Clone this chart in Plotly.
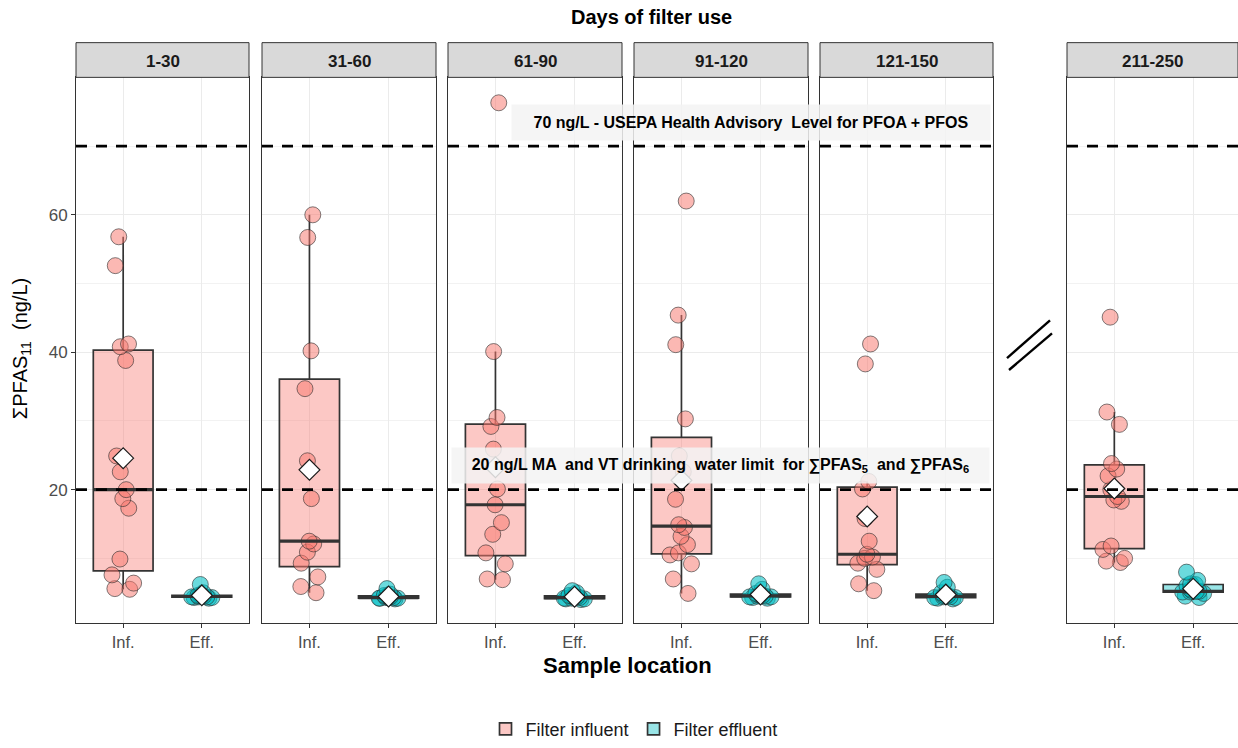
import plotly.graph_objects as go
import numpy as np

W, H = 1238, 748

# ---------------- data ----------------
panels = ["1-30", "31-60", "61-90", "91-120", "121-150", "211-250"]
locations = ["Inf.", "Eff."]
series_names = ["Filter influent", "Filter effluent"]
guideline_values = [70, 20]
y_ticks = [20, 40, 60]

inf_1_30 = [56.8, 52.6, 41.2, 40.8, 38.8, 24.9, 22.6, 20.0, 18.7, 17.3, 9.9, 7.6, 6.4, 5.6, 5.5]
eff_1_30 = [6.2, 5.0, 4.6, 4.5, 4.4, 4.4, 4.3, 4.3, 4.2, 4.5, 4.6, 4.4]
inf_31_60 = [60.0, 56.7, 40.2, 34.7, 24.2, 18.7, 12.5, 12.1, 10.9, 9.3, 7.3, 5.9, 5.0]
eff_31_60 = [5.6, 4.8, 4.5, 4.3, 4.3, 4.2, 4.2, 4.1, 4.3, 4.4, 4.2, 4.6]
inf_61_90 = [76.3, 40.1, 30.5, 29.2, 25.9, 20.1, 17.8, 15.2, 13.5, 10.8, 9.2, 7.0, 6.9]
eff_61_90 = [5.3, 5.0, 4.6, 4.4, 4.3, 4.2, 4.2, 4.1, 4.0, 4.3, 4.1, 4.5]
inf_91_120 = [62.0, 45.4, 41.1, 30.3, 24.9, 22.6, 18.6, 14.9, 14.5, 13.2, 12.0, 10.8, 10.5, 9.2, 7.0, 4.9]
eff_91_120 = [6.3, 5.5, 4.9, 4.6, 4.5, 4.4, 4.4, 4.3, 4.5, 4.6, 4.2, 4.7]
inf_121_150 = [41.2, 38.3, 21.2, 20.1, 15.8, 12.5, 10.6, 10.2, 10.0, 9.3, 8.4, 6.3, 5.3]
eff_121_150 = [6.5, 5.8, 5.0, 4.6, 4.4, 4.3, 4.3, 4.2, 4.4, 4.5, 4.1, 4.6]
inf_211_250 = [45.1, 31.3, 29.5, 23.8, 23.0, 22.0, 20.0, 19.0, 18.5, 18.3, 11.8, 11.3, 10.0, 9.6, 9.4]
eff_211_250 = [8.0, 6.8, 6.3, 6.2, 6.0, 5.5, 5.2, 5.2, 5.2, 5.1, 5.1, 4.9, 4.5, 4.3]

influent = [inf_1_30, inf_31_60, inf_61_90, inf_91_120, inf_121_150, inf_211_250]
effluent = [eff_1_30, eff_31_60, eff_61_90, eff_91_120, eff_121_150, eff_211_250]

label_70 = "<b>70 ng/L - USEPA Health Advisory \u00a0Level for PFOA + PFOS</b>"
label_20 = "<b>20 ng/L MA \u00a0and VT drinking \u00a0water limit \u00a0for ∑PFAS<sub>5</sub> \u00a0and ∑PFAS<sub>6</sub></b>"

# ---------------- layout geometry (pixels) ----------------
panel_px = [(76, 249), (262, 436), (448, 622), (634, 808), (820, 993), (1067, 1238)]
plot_top, plot_bot = 78, 628
strip_top = 43
FONT = "Liberation Sans, Arial, sans-serif"

def px_x(p):
    return p / W

def px_y(p):
    return 1.0 - p / H

c_inf_fill = "rgba(248,118,109,0.40)"
c_inf_pt = "rgba(248,118,109,0.52)"
c_eff_fill = "rgba(0,191,196,0.40)"
c_eff_pt = "rgba(0,191,196,0.58)"
c_line = "#333333"
BOX_W = 0.76

fig = go.Figure()
layout_axes = {}
shapes = []
annotations = []

std_w = 173.5
for i, name in enumerate(panels):
    sfx = "" if i == 0 else str(i + 1)
    xr, yr = "x" + sfx, "y" + sfx
    for j, (vals, fill, pt, sname) in enumerate([
        (influent[i], c_inf_fill, c_inf_pt, series_names[0]),
        (effluent[i], c_eff_fill, c_eff_pt, series_names[1]),
    ]):
        pos = j + 1
        fig.add_trace(go.Box(
            x=[pos] * len(vals), y=vals, name=sname, legendgroup=sname,
            showlegend=(i == 0), xaxis=xr, yaxis=yr,
            boxpoints="all", jitter=0.45, pointpos=0, width=BOX_W,
            whiskerwidth=0, fillcolor=fill,
            line=dict(color=c_line, width=1.7),
            marker=dict(color=pt, size=16, line=dict(color="rgba(45,45,45,0.6)", width=1)),
            quartilemethod="linear", hoverinfo="y",
        ))
        med = float(np.median(vals))
        fig.add_trace(go.Scatter(
            x=[pos - BOX_W / 2, pos + BOX_W / 2], y=[med, med], mode="lines",
            xaxis=xr, yaxis=yr, showlegend=False, hoverinfo="skip",
            line=dict(color=c_line, width=3.2),
        ))
    fig.add_trace(go.Scatter(
        x=[1, 2], y=[float(np.mean(influent[i])), float(np.mean(effluent[i]))],
        mode="markers", xaxis=xr, yaxis=yr, showlegend=False,
        marker=dict(symbol="diamond", size=16, color="white", line=dict(color="#1a1a1a", width=1.2)),
    ))

    x0, x1 = panel_px[i]
    xmax = 0.4 + (x1 - x0) * 2.2 / std_w if i == 5 else 2.6
    layout_axes["xaxis" + sfx] = dict(
        domain=[px_x(x0), px_x(x1)], range=[0.4, xmax], anchor=yr,
        tickvals=[1, 2], ticktext=locations, ticks="outside", ticklen=4,
        tickcolor=c_line, tickfont=dict(size=16.5, color="#4D4D4D", family=FONT),
        showgrid=True, gridcolor="#EBEBEB", gridwidth=1, zeroline=False,
        showline=True, mirror=True, linecolor=c_line, linewidth=1,
    )
    layout_axes["yaxis" + sfx] = dict(
        domain=[px_y(plot_bot), px_y(plot_top)], range=[0.6, 80.0], anchor=xr,
        tickvals=y_ticks, showticklabels=(i == 0), ticks="outside" if i == 0 else "",
        ticklen=4, tickcolor=c_line, tickfont=dict(size=17, color="#4D4D4D", family=FONT),
        ticklabelstandoff=0,
        showgrid=True, gridcolor="#EBEBEB", gridwidth=1, zeroline=False,
        minor=dict(tickvals=[10, 30, 50, 70], showgrid=True, gridcolor="#F2F2F2", gridwidth=0.6, ticks=""),
        showline=True, mirror=True, linecolor=c_line, linewidth=1,
    )
    for gv in guideline_values:
        shapes.append(dict(type="line", xref=xr + " domain", yref=yr, x0=0, x1=1, y0=gv, y1=gv,
                           line=dict(color="black", width=2.6, dash="11px,9px"), layer="above"))
    shapes.append(dict(type="rect", xref="paper", yref="paper", x0=px_x(x0), x1=px_x(x1),
                       y0=px_y(plot_top), y1=px_y(strip_top), fillcolor="#D9D9D9",
                       line=dict(color=c_line, width=1), layer="above"))
    annotations.append(dict(text="<b>%s</b>" % name, xref="paper", yref="paper",
                            x=px_x((x0 + x1) / 2), y=px_y((strip_top + plot_top) / 2 + 1),
                            xanchor="center", yanchor="middle",
                            showarrow=False, font=dict(size=17, color="#1A1A1A", family=FONT)))

# axis break marks
for (a, b, c, d) in [(1007, 361, 1050, 323), (1009, 373, 1052, 336)]:
    shapes.append(dict(type="line", xref="paper", yref="paper", x0=px_x(a), y0=px_y(b),
                       x1=px_x(c), y1=px_y(d), line=dict(color="black", width=2.4)))

# guideline labels
annotations.append(dict(text=label_70, xref="paper", yref="paper", x=px_x(751), y=px_y(123),
                        xanchor="center", yanchor="middle",
                        showarrow=False, width=460, height=17, borderpad=9,
                        bgcolor="rgba(243,243,243,0.85)",
                        font=dict(size=16, color="black", family=FONT)))
annotations.append(dict(text=label_20, xref="paper", yref="paper", x=px_x(720), y=px_y(469),
                        xanchor="center", yanchor="middle",
                        showarrow=False, width=519, height=17, borderpad=9,
                        bgcolor="rgba(243,243,243,0.85)",
                        font=dict(size=16, color="black", family=FONT)))

# titles
annotations.append(dict(text="<b>Days of filter use</b>", xref="paper", yref="paper",
                        x=px_x(651), y=px_y(17), xanchor="center", yanchor="middle", showarrow=False,
                        font=dict(size=20, color="black", family=FONT)))
annotations.append(dict(text="<b>Sample location</b>", xref="paper", yref="paper",
                        x=px_x(627), y=px_y(671), xanchor="center", yanchor="middle", showarrow=False,
                        font=dict(size=22, color="black", family=FONT)))
annotations.append(dict(text="ΣPFAS<sub>11</sub>\u00a0 (ng/L)", xref="paper", yref="paper",
                        x=px_x(21), y=px_y(352), xanchor="center", yanchor="middle",
                        showarrow=False, textangle=-90,
                        font=dict(size=20, color="black", family=FONT)))

fig.update_layout(
    width=W, height=H, autosize=False,
    margin=dict(l=0, r=0, t=0, b=0),
    paper_bgcolor="white", plot_bgcolor="white",
    boxmode="overlay",
    font=dict(family=FONT),
    shapes=shapes, annotations=annotations,
    legend=dict(orientation="h", x=px_x(634), xanchor="center", y=px_y(735), yanchor="middle",
                font=dict(size=18, color="#1A1A1A", family=FONT), bgcolor="rgba(0,0,0,0)"),
    **layout_axes,
)

fig.write_html("out.html")
